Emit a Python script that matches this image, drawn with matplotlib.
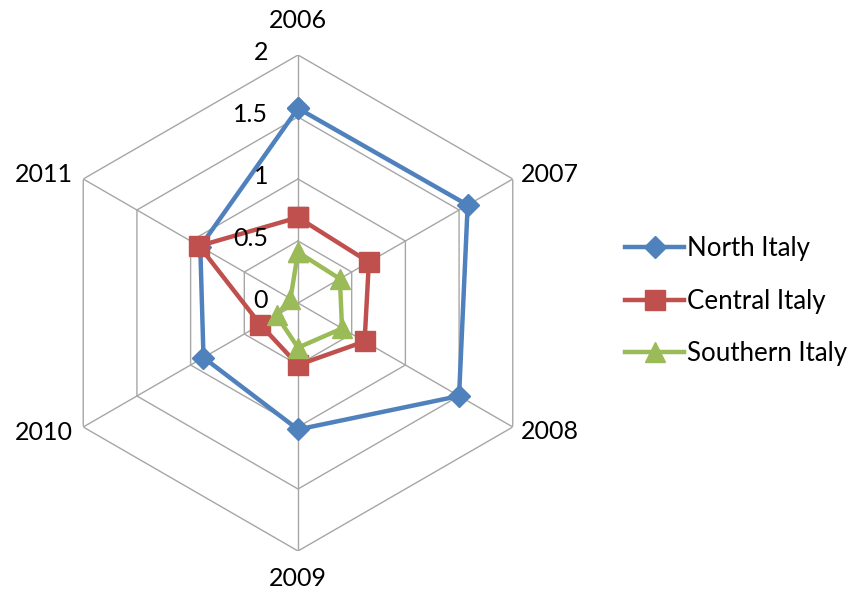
import numpy as np
import matplotlib
matplotlib.use("Agg")
import matplotlib.pyplot as plt
from matplotlib.transforms import offset_copy

plt.rcParams['font.family'] = ['Lato', 'DejaVu Sans']

# Data
years = ["2006", "2007", "2008", "2009", "2010", "2011"]
north_italy = [1.57, 1.58, 1.50, 1.02, 0.88, 0.91]
central_italy = [0.69, 0.66, 0.62, 0.50, 0.35, 0.92]
southern_italy = [0.41, 0.39, 0.41, 0.36, 0.20, 0.07]
series_names = ["North Italy", "Central Italy", "Southern Italy"]
radial_ticks = [0, 0.5, 1, 1.5, 2]
radial_tick_labels = ["0", "0.5", "1", "1.5", "2"]

colors = ["#4F81BD", "#C0504D", "#9BBB59"]
markers = ["D", "s", "^"]
marker_sizes = [11, 14, 14]

W, H = 855, 595
fig = plt.figure(figsize=(W / 100, H / 100), dpi=100)

cx, cy, R = 298, 303, 248
ax = fig.add_axes([(cx - R) / W, (H - cy - R) / H, 2 * R / W, 2 * R / H],
                  projection="polar")
ax.set_theta_offset(np.pi / 2)
ax.set_theta_direction(-1)
ax.set_ylim(0, 2)
ax.grid(False)
ax.spines["polar"].set_visible(False)
ax.set_xticks([])
ax.set_yticks([])
ax.patch.set_visible(False)

n = len(years)
angles = np.arange(n) * 2 * np.pi / n
closed_angles = np.append(angles, angles[0])

grid_color = "#A6A6A6"
# hexagonal rings
for r in radial_ticks[1:]:
    ax.plot(closed_angles, [r] * (n + 1), color=grid_color, lw=1.0, zorder=1)
# spokes
for a in angles:
    ax.plot([a, a], [0, radial_ticks[-1]], color=grid_color, lw=1.0, zorder=1)

# series
for vals, name, c, m, ms in zip([north_italy, central_italy, southern_italy],
                                series_names, colors, markers, marker_sizes):
    v = np.append(vals, vals[0])
    ax.plot(closed_angles, v, color=c, lw=3.2, marker=m, markersize=ms,
            markerfacecolor=c, markeredgecolor=c, label=name, zorder=3,
            clip_on=False)

# radial tick labels, left of the vertical axis
tick_tr = offset_copy(ax.transData, fig=fig, x=-30, y=3, units="dots")
for r, lab in zip(radial_ticks, radial_tick_labels):
    ax.text(0, r, lab, transform=tick_tr, ha="right", va="center",
            fontsize=18, color="black")

# category labels around the outer ring
label_offsets = [(0, 35, "center"), (8, 4, "left"), (8, -5, "left"),
                 (0, -27, "center"), (-10, -5, "right"), (-10, 4, "right")]
for a, yr, (dx, dy, ha) in zip(angles, years, label_offsets):
    tr = offset_copy(ax.transData, fig=fig, x=dx, y=dy, units="dots")
    ax.text(a, radial_ticks[-1], yr, transform=tr, ha=ha, va="center",
            fontsize=18, color="black")

fig.legend(loc="center left", bbox_to_anchor=(0.731, 0.494), frameon=False,
           fontsize=18.6, handlelength=2.3, handletextpad=0.1,
           labelspacing=1.08, borderpad=0, borderaxespad=0)

fig.savefig("out.png", dpi=100)
